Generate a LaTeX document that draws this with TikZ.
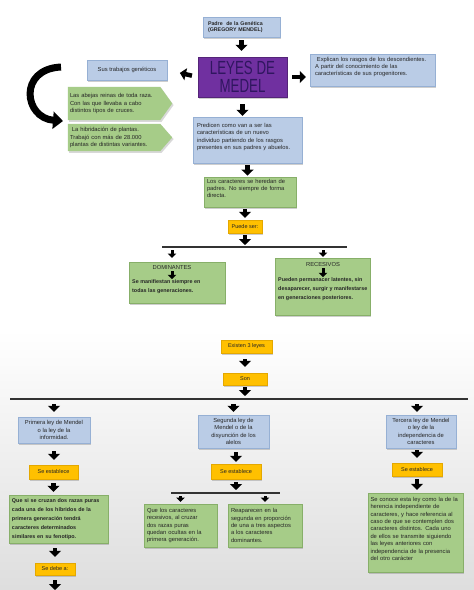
\documentclass[tikz,border=0pt]{standalone}
\usepackage{fontspec}
\setmainfont{Liberation Sans}
\usetikzlibrary{arrows.meta,shadows,calc}
\pgfdeclarelayer{bg}
\pgfsetlayers{bg,main}
\definecolor{blueF}{RGB}{186,204,230}
\definecolor{blueD}{RGB}{150,176,212}
\definecolor{greenF}{RGB}{166,204,136}
\definecolor{greenD}{RGB}{135,175,105}
\definecolor{yellowF}{RGB}{255,192,0}
\definecolor{yellowD}{RGB}{228,168,0}
\definecolor{purpleF}{RGB}{112,48,160}
\definecolor{purpleT}{RGB}{48,22,96}
\newcommand{\myfn}{\fontsize{5.8}{7.4}\selectfont}
\newcommand{\myfb}{\fontsize{5.4}{9}\selectfont\bfseries}
\newcommand{\myfs}{\fontsize{5.5}{6.6}\selectfont}
\begin{document}
\begin{tikzpicture}[x=1pt,y=-1pt,
  every node/.style={text=black!85},
  box/.style={draw, line width=0.4pt, inner sep=2pt,
    drop shadow={shadow xshift=1.4pt,shadow yshift=-1.6pt,opacity=0.38}},
  bluebox/.style={box, fill=blueF, draw=blueD},
  greenbox/.style={box, fill=greenF, draw=greenD},
  yelbox/.style={box, fill=yellowF, draw=yellowD, font=\myfs, inner sep=1pt},
  barrow/.style={line width=4.5pt, -{Triangle[width=12pt,length=6pt]}},
  sarrow/.style={line width=3pt, -{Triangle[width=8.5pt,length=4.2pt]}},
  hline/.style={line width=1.2pt, draw=black!80},
]
\useasboundingbox (0,0) rectangle (474,590);
\begin{pgfonlayer}{bg}
  \fill[white] (0,0) rectangle (474,590);
  \shade[top color=white, bottom color=black!13] (0,330) rectangle (474,590);
\end{pgfonlayer}

% top
\node[bluebox, minimum width=77pt, minimum height=20pt, text width=67pt, inner xsep=5pt,
  align=left, font=\fontsize{5.3}{6.6}\selectfont\bfseries] (padre) at (241.5,27) {Padre\ \ de la Genética\\(GREGORY MENDEL)};
\node[box, fill=purpleF, draw=purpleF!75!black, minimum width=89pt, minimum height=40pt,
  inner sep=0pt, align=center, text=purpleT, font=\fontsize{19}{18}\selectfont]
  (leyes) at (242.5,77) {\scalebox{0.7}[1]{LEYES DE}\\\scalebox{0.7}[1]{MEDEL}};
\node[bluebox, minimum width=125pt, minimum height=32pt, text width=115pt, inner xsep=5pt,
  align=left, font=\myfn] (expl) at (372.5,70)
  {\ Explican los rasgos de los descendientes.\\A partir del conocimiento de las\\características de sus progenitores.\\\mbox{}};
\node[bluebox, minimum width=80pt, minimum height=20pt, font=\myfn] (sus) at (127,70) {Sus trabajos genéticos};

\node[minimum width=92pt, minimum height=33pt, text width=88pt, inner xsep=2pt, align=left, font=\myfn]
  (abejas) at (114,103.5) {Las abejas reinas de toda raza.\\Con las que llevaba a cabo\\distintos tipos de cruces.};
\node[minimum width=92pt, minimum height=23pt, text width=88pt, inner xsep=2pt, align=left, font=\myfn]
  (hibrid) at (114,137.5) {\ La hibridación de plantas.\\Trabajó con más de 28.000\\plantas de distintas variantes.};
\begin{pgfonlayer}{bg}
  \fill[greenF, drop shadow={shadow xshift=1.4pt,shadow yshift=-1.6pt,opacity=0.3}]
    (abejas.north west) -- (abejas.north east) -- ($(abejas.east)+(12,0)$) -- (abejas.south east) -- (abejas.south west) -- cycle;
  \fill[greenF, drop shadow={shadow xshift=1.4pt,shadow yshift=-1.6pt,opacity=0.3}]
    (hibrid.north west) -- (hibrid.north east) -- ($(hibrid.east)+(12,0)$) -- (hibrid.south east) -- (hibrid.south west) -- cycle;
\end{pgfonlayer}

\coordinate (cs) at (61,67);
\coordinate (ce) at (63,121);
\draw[line width=7pt, -{Triangle[width=17pt,length=10pt]}] (cs) .. controls (18,69) and (24,118) .. (ce);

\node[bluebox, minimum width=109pt, minimum height=46pt, text width=101pt, inner xsep=4pt,
  align=left, font=\myfn] (pred) at (247.5,140)
  {Predicen como van a ser las\\características de un nuevo\\individuo partiendo de los rasgos\\presentes en sus padres y abuelos.\\\mbox{}};
\node[greenbox, minimum width=92pt, minimum height=28pt, text width=86pt, inner xsep=3pt,
  align=left, font=\myfn] (car) at (250,192)
  {Los caracteres se heredan de\\padres. No siempre de forma\\directa.\\\mbox{}};
\node[yelbox, minimum width=34pt, minimum height=13pt] (puede) at (245,226.5) {Puede ser:};

\coordinate (h1a) at (162,247);
\coordinate (h1b) at (347,247);
\draw[hline] (h1a) -- (h1b);

\node[greenbox, minimum width=96pt, minimum height=41pt] (dom) at (177,282.5) {};
\node[font=\myfn, inner sep=1pt] (domt) at (172,267.5) {DOMINANTES};
\node[font=\myfb, align=left, anchor=north west, inner sep=0pt] (domd) at (132,279.5)
  {Se manifiestan siempre en\\todas las generaciones.};
\node[greenbox, minimum width=95pt, minimum height=57pt] (rec) at (322.5,286.5) {};
\node[font=\myfn, inner sep=1pt] (rect) at (323,264.5) {RECESIVOS};
\node[font=\myfb, align=left, anchor=north west, inner sep=0pt] (recd) at (278,277.5)
  {Pueden permanacer latentes, sin\\desaparecer, surgir y manifestarse\\en generaciones posteriores.};

% leyes section
\node[yelbox, minimum width=51pt, minimum height=13pt] (exist) at (246.5,346.5) {Existen 3 leyes};
\node[yelbox, minimum width=44pt, minimum height=12pt] (son) at (245,379) {Son};
\coordinate (h2a) at (10,399);
\coordinate (h2b) at (468,399);
\draw[hline] (h2a) -- (h2b);

\node[bluebox, minimum width=72pt, minimum height=26pt, align=center, font=\myfn] (ley1) at (54,430)
  {Primera ley de Mendel\\o la ley de la\\informidad.};
\node[bluebox, minimum width=71pt, minimum height=33pt, align=center, font=\myfn] (ley2) at (233.5,431.5)
  {Segunda ley de\\Mendel o de la\\disyunción de los\\alelos};
\node[bluebox, minimum width=70pt, minimum height=33pt, align=center, font=\myfn] (ley3) at (421,431.5)
  {Tercera ley de Mendel\\o ley de la\\independencia de\\caracteres};

\node[yelbox, minimum width=49pt, minimum height=14pt] (se1) at (53.5,472) {Se establece};
\node[yelbox, minimum width=50pt, minimum height=15pt] (se2) at (236,471.5) {Se establece};
\node[yelbox, minimum width=50pt, minimum height=13pt] (se3) at (417,469.5) {Se establece};

\node[greenbox, minimum width=99pt, minimum height=48pt, text width=93pt, inner xsep=3pt,
  align=left, font=\myfb] (g1) at (58.5,519)
  {Que si se cruzan dos razas puras\\cada una de los híbridos de la\\primera generación tendrá\\caracteres determinados\\similares en su fenotipo.};
\node[yelbox, minimum width=40pt, minimum height=12pt] (debe) at (55,569) {Se debe a:};
\coordinate (bot) at (55,590);

\coordinate (h3a) at (171,493);
\coordinate (h3b) at (280,493);
\draw[hline] (h3a) -- (h3b);
\node[greenbox, minimum width=73pt, minimum height=43pt, text width=67pt, inner xsep=3pt,
  align=left, font=\myfn] (gA) at (180.5,525.5)
  {Que los caracteres\\recesivos, al cruzar\\dos razas puras\\quedan ocultas en la\\primera generación.};
\node[greenbox, minimum width=74pt, minimum height=43pt, text width=68pt, inner xsep=3pt,
  align=left, font=\myfn] (gB) at (265,525.5)
  {Reaparecen en la\\segunda en proporción\\de una a tres aspectos\\a los caracteres\\dominantes.};
\node[greenbox, minimum width=95pt, minimum height=79pt, text width=90pt, inner xsep=2.5pt,
  align=left, font=\myfn] (g3) at (415.5,532.5)
  {Se conoce esta ley como la de la\\herencia independiente de\\caracteres, y hace referencia al\\caso de que se contemplen dos\\caracteres distintos. Cada uno\\de ellos se transmite siguiendo\\las leyes anteriores con\\independencia de la presencia\\del otro carácter\\\mbox{}};

% connectors
\draw[barrow, shorten <=3pt, shorten >=6pt] (padre.south) -- (padre.south |- leyes.north);
\draw[barrow, shorten <=6pt, shorten >=13pt] (leyes.west) -- (sus.east);
\draw[barrow, shorten <=5pt, shorten >=4pt] (leyes.east) -- (leyes.east -| expl.west);
\draw[barrow, shorten <=7pt, shorten >=1pt] (leyes.south) -- (leyes.south |- pred.north);
\draw[barrow, shorten <=2pt, shorten >=1pt] (pred.south) -- (pred.south |- car.north);
\draw[barrow, shorten <=2pt, shorten >=2pt] (puede.north |- car.south) -- (puede.north);
\draw[barrow, shorten <=2pt, shorten >=2pt] (puede.south) -- (puede.south |- h1a);
\draw[sarrow, shorten <=3pt, shorten >=4pt] (domt |- h1a) -- (domt |- dom.north);
\draw[sarrow, shorten <=3pt, shorten >=1pt] (rect |- h1a) -- (rect |- rec.north);
\draw[sarrow, shorten <=0.5pt, shorten >=0.5pt] (domt.south) -- (domt.south |- domd.north);
\draw[sarrow, shorten <=0.5pt, shorten >=0.5pt] (rect.south) -- (rect.south |- recd.north);

\draw[barrow, shorten <=6pt, shorten >=6pt] (son.north |- exist.south) -- (son.north);
\draw[barrow, shorten <=2pt, shorten >=3pt] (son.south) -- (son.south |- h2a);
\draw[barrow, shorten <=5pt, shorten >=5pt] (ley1.north |- h2a) -- (ley1.north);
\draw[barrow, shorten <=5pt, shorten >=3pt] (ley2.north |- h2a) -- (ley2.north);
\draw[barrow, shorten <=5pt, shorten >=3pt] (se3.north |- h2a) -- (se3.north |- ley3.north);
\draw[barrow, shorten <=8pt, shorten >=5pt] (ley1.south) -- (ley1.south |- se1.north);
\draw[barrow, shorten <=4pt, shorten >=3pt] (se1.south) -- (se1.south |- g1.north);
\draw[barrow, shorten <=5pt, shorten >=6pt] (debe.north |- g1.south) -- (debe.north);
\draw[barrow, shorten <=5pt] (debe.south) -- (bot);
\draw[barrow, shorten <=4pt, shorten >=2pt] (se2.north |- ley2.south) -- (se2.north);
\draw[barrow, shorten <=3pt, shorten >=3pt] (se2.south) -- (se2.south |- h3a);
\draw[sarrow, shorten <=3pt, shorten >=2pt] (gA.north |- h3a) -- (gA.north);
\draw[sarrow, shorten <=3pt, shorten >=2pt] (gB.north |- h3a) -- (gB.north);
\draw[barrow, shorten <=2pt, shorten >=5pt] (se3.north |- ley3.south) -- (se3.north);
\draw[barrow, shorten <=3pt, shorten >=3pt] (se3.south) -- (se3.south |- g3.north);
\end{tikzpicture}
\end{document}
